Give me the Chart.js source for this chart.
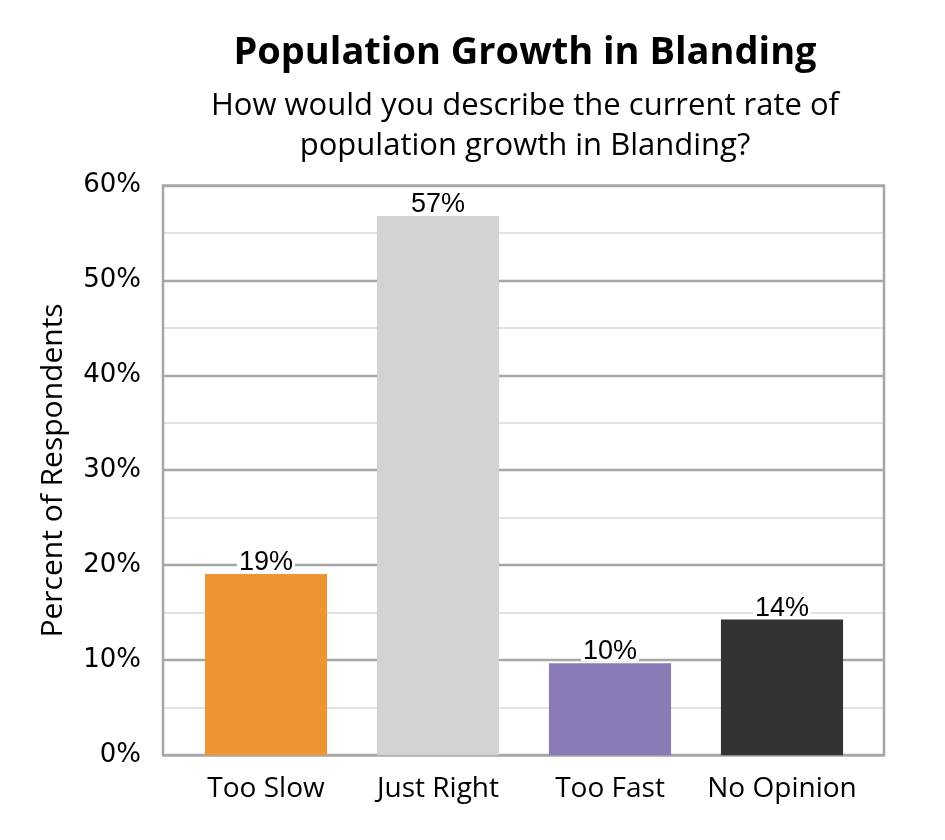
<!DOCTYPE html>
<html>
<head>
<meta charset="utf-8">
<script src="https://cdn.jsdelivr.net/npm/chart.js@4/dist/chart.umd.min.js"></script>
<style>
  body { margin: 0; background: #fff; }
</style>
</head>
<body>
<canvas id="myChart" width="945" height="840"></canvas>
<script>
var element = document.getElementById('myChart').getContext('2d');

// The data for our chart
var categories = ['Too Slow', 'Just Right', 'Too Fast', 'No Opinion'];
var percents = [19.1, 56.8, 9.7, 14.3];
var barColors = ['#ED9433', '#D3D3D3', '#8A7BB6', '#333333'];
var yTicks = [0, 10, 20, 30, 40, 50, 60];

var humanist = '"Open Sans", Lato, sans-serif';

// gridlines and the frame, a bit wider than the bar area (like the Excel original)
var framePlugin = {
    id: 'frame',
    afterLayout: function(chart) {
        // center title + subtitle on the whole plot frame, not the padded chart area
        chart.boxes.forEach(function(box) {
            if (box.position === 'top') {
                box.left = 105;
                box.right = 945;
            }
        });
    },
    beforeDatasetsDraw: function(chart) {
        var ctx = chart.ctx;
        var area = chart.chartArea;
        var y = chart.scales.y;
        var left = area.left - 17, right = area.right + 16;
        ctx.save();
        for (var v = 0; v <= yTicks[yTicks.length - 1]; v += 5) {
            var py = Math.round(y.getPixelForValue(v));
            var major = v % 10 === 0;
            ctx.strokeStyle = major ? '#a6a6a6' : '#d9d9d9';
            ctx.lineWidth = major ? 2.5 : 1.5;
            ctx.beginPath();
            ctx.moveTo(left, py);
            ctx.lineTo(right, py);
            ctx.stroke();
        }
        ctx.strokeStyle = '#a6a6a6';
        ctx.lineWidth = 2.5;
        ctx.strokeRect(left, area.top, right - left, area.bottom - area.top);
        ctx.restore();
    }
};

// value labels on top of each bar, with a white box behind them
var labelPlugin = {
    id: 'barLabels',
    afterDatasetsDraw: function(chart) {
        var ctx = chart.ctx;
        var meta = chart.getDatasetMeta(0);
        ctx.save();
        ctx.font = '27px "Liberation Sans", Arial, sans-serif';
        ctx.textAlign = 'center';
        ctx.textBaseline = 'alphabetic';
        meta.data.forEach(function(bar, i) {
            var txt = Math.round(percents[i]) + '%';
            var w = ctx.measureText(txt).width;
            ctx.fillStyle = '#fff';
            ctx.fillRect(bar.x - w / 2 - 2, bar.y - 25, w + 4, 23);
            ctx.fillStyle = '#000';
            ctx.fillText(txt, bar.x, bar.y - 4);
        });
        ctx.restore();
    }
};

var chartData = {
    labels: categories,
    datasets: [{
        data: percents,
        backgroundColor: barColors,
        borderWidth: 0,
        barPercentage: 0.71,
        categoryPercentage: 1
    }]
};

var chartOptions = {
    responsive: false,
    animation: false,
    layout: { padding: { left: 0, right: 77, top: 0, bottom: 17 } },
    plugins: {
        legend: { display: false },
        tooltip: { enabled: false },
        title: {
            display: true,
            text: 'Population Growth in Blanding',
            color: '#000',
            font: { family: humanist, size: 38, weight: 'bold', lineHeight: 1.2 },
            padding: { top: 30, bottom: 11 }
        },
        subtitle: {
            display: true,
            text: ['How would you describe the current rate of', 'population growth in Blanding?'],
            color: '#000',
            font: { family: humanist, size: 31, lineHeight: 1.29 },
            padding: { top: 0, bottom: 19 }
        }
    },
    scales: {
        x: {
            grid: { display: false, drawTicks: false },
            border: { display: false },
            ticks: { color: '#000', padding: 17, font: { family: humanist, size: 28 } }
        },
        y: {
            min: 0,
            max: 60,
            afterFit: function(scale) { scale.width = 180; },
            afterBuildTicks: function(scale) {
                scale.ticks = yTicks.map(function(v) { return { value: v }; });
            },
            grid: { display: false, drawTicks: false },
            border: { display: false },
            ticks: {
                color: '#000',
                padding: 39,
                font: { family: '"DejaVu Sans", Verdana, sans-serif', size: 26 },
                callback: function(v) { return v + '%'; }
            },
            title: {
                display: true,
                text: 'Percent of Respondents',
                color: '#000',
                font: { family: humanist, size: 30, lineHeight: 1.2 },
                padding: { top: 35, bottom: 0 }
            }
        }
    }
};

var chart = new Chart(element, {
    type: 'bar',
    data: chartData,
    options: chartOptions,
    plugins: [framePlugin, labelPlugin]
});
</script>
</body>
</html>
